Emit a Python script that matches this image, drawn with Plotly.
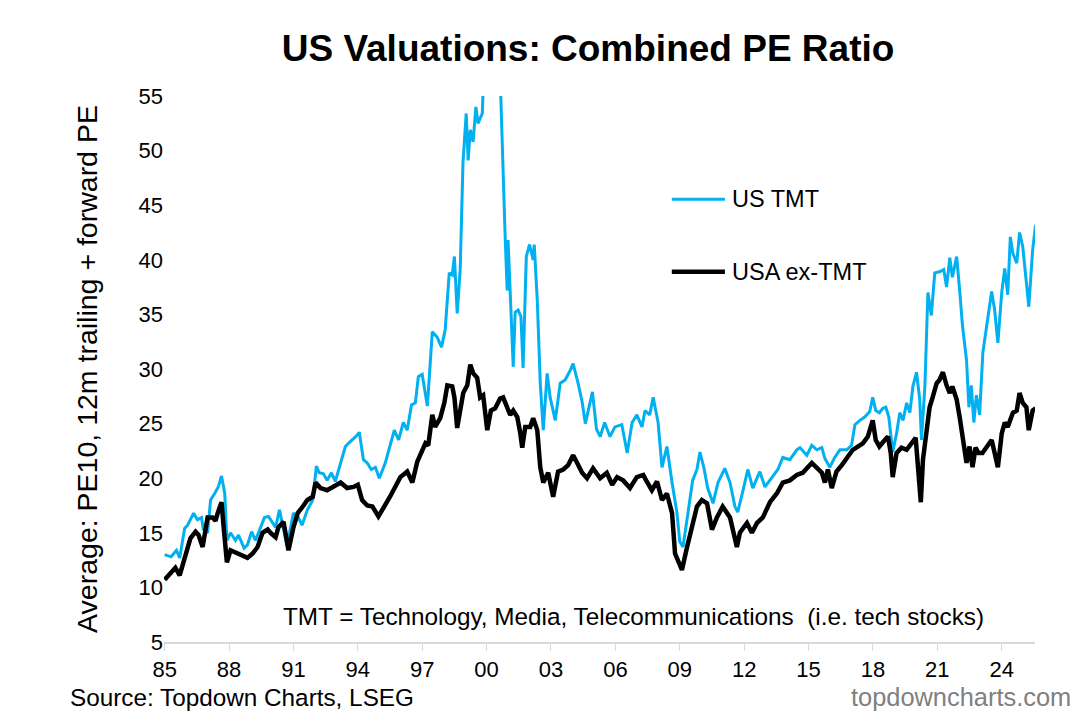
import plotly.graph_objects as go

# US TMT combined PE (decimal year, value)
tmt_dates = [
    1985.00, 1985.30, 1985.55, 1985.70, 1985.93, 1986.07, 1986.35, 1986.53, 1986.72, 1986.80,
    1987.00, 1987.14, 1987.33, 1987.50, 1987.65, 1987.80, 1987.90, 1988.07, 1988.30, 1988.44,
    1988.70, 1988.86, 1989.05, 1989.23, 1989.47, 1989.65, 1989.84, 1990.00, 1990.17, 1990.35,
    1990.54, 1990.70, 1991.00, 1991.23, 1991.40, 1991.65, 1991.90, 1992.07, 1992.20, 1992.40,
    1992.57, 1992.77, 1992.95, 1993.20, 1993.42, 1993.56, 1993.75, 1993.90, 1994.07, 1994.26,
    1994.44, 1994.63, 1994.82, 1995.00, 1995.28, 1995.37, 1995.70, 1995.90, 1996.12, 1996.30,
    1996.50, 1996.68, 1996.82, 1997.00, 1997.24, 1997.47, 1997.70, 1997.90, 1998.07, 1998.26,
    1998.40, 1998.50, 1998.63, 1998.77, 1998.90, 1999.05, 1999.14, 1999.24, 1999.37, 1999.50,
    1999.60, 1999.80, 1999.95, 2000.25, 2000.55, 2000.87, 2000.96, 2001.00, 2001.10, 2001.24,
    2001.33, 2001.47, 2001.60, 2001.70, 2001.85, 2002.00, 2002.17, 2002.22, 2002.36, 2002.50,
    2002.64, 2002.82, 2002.96, 2003.20, 2003.43, 2003.66, 2003.90, 2004.03, 2004.26, 2004.45,
    2004.60, 2004.75, 2004.93, 2005.12, 2005.29, 2005.50, 2005.75, 2005.98, 2006.30, 2006.55,
    2006.78, 2007.00, 2007.24, 2007.38, 2007.60, 2007.76, 2007.99, 2008.17, 2008.40, 2008.64,
    2008.87, 2009.00, 2009.15, 2009.38, 2009.60, 2009.80, 2009.94, 2010.13, 2010.30, 2010.55,
    2010.78, 2011.10, 2011.34, 2011.57, 2011.70, 2011.95, 2012.17, 2012.40, 2012.73, 2012.97,
    2013.30, 2013.57, 2013.80, 2014.13, 2014.45, 2014.60, 2014.92, 2015.15, 2015.39, 2015.62,
    2015.76, 2015.99, 2016.22, 2016.46, 2016.78, 2017.00, 2017.16, 2017.39, 2017.62, 2017.85,
    2017.99, 2018.13, 2018.30, 2018.46, 2018.60, 2018.74, 2018.92, 2019.10, 2019.25, 2019.40,
    2019.57, 2019.72, 2019.86, 2020.03, 2020.18, 2020.26, 2020.42, 2020.56, 2020.72, 2020.88,
    2021.10, 2021.30, 2021.43, 2021.58, 2021.70, 2021.90, 2022.04, 2022.17, 2022.36, 2022.47,
    2022.58, 2022.70, 2022.82, 2022.97, 2023.12, 2023.36, 2023.53, 2023.67, 2023.82, 2024.00,
    2024.14, 2024.28, 2024.40, 2024.52, 2024.70, 2024.83, 2024.98, 2025.15, 2025.26, 2025.44,
    2025.58,
]
tmt_values = [
    13.0, 12.8, 13.4, 12.7, 15.4, 15.7, 16.8, 16.2, 16.4, 15.3,
    15.0, 18.0, 18.6, 19.2, 20.2, 18.6, 14.3, 15.0, 14.3, 14.8,
    13.6, 13.9, 15.1, 14.3, 15.5, 16.4, 16.5, 16.0, 15.5, 17.1,
    15.3, 13.8, 16.8, 16.4, 15.7, 17.1, 18.0, 21.1, 20.5, 20.4,
    19.8, 20.5, 19.7, 21.4, 22.9, 23.2, 23.5, 23.8, 24.2, 21.7,
    21.4, 20.8, 21.0, 20.0, 21.4, 22.0, 24.4, 23.5, 25.1, 24.4,
    26.7, 26.9, 29.3, 29.5, 26.6, 33.4, 32.9, 32.0, 33.6, 38.8,
    38.6, 40.3, 35.1, 39.1, 48.9, 53.4, 49.1, 51.9, 50.8, 54.0,
    52.5, 53.4, 62.0, 68.0, 62.0, 41.8, 37.2, 41.8, 36.6, 30.2,
    35.2, 35.4, 34.8, 30.1, 40.3, 41.4, 40.0, 41.4, 36.3, 28.7,
    24.4, 29.6, 27.4, 25.3, 28.7, 29.0, 29.9, 30.5, 28.7, 27.0,
    25.0, 26.2, 27.9, 24.5, 23.8, 25.1, 23.8, 24.7, 24.9, 22.3,
    25.1, 25.8, 24.7, 26.2, 25.8, 27.4, 25.1, 21.0, 22.9, 19.6,
    16.8, 14.2, 13.7, 16.8, 19.8, 20.8, 22.4, 20.9, 19.1, 17.7,
    19.6, 20.9, 19.6, 17.4, 16.9, 18.9, 20.8, 19.1, 20.6, 19.2,
    20.1, 20.8, 21.9, 21.7, 22.6, 22.8, 22.1, 23.0, 22.6, 22.8,
    21.8, 21.0, 21.9, 22.6, 22.6, 23.0, 24.9, 25.3, 25.6, 26.1,
    27.4, 26.2, 26.0, 26.4, 26.5, 25.6, 22.4, 24.1, 26.0, 25.3,
    26.9, 26.0, 28.4, 29.7, 27.2, 23.5, 28.4, 37.0, 34.9, 38.8,
    38.9, 39.1, 37.5, 40.2, 38.4, 40.3, 37.2, 34.0, 30.8, 26.5,
    28.5, 25.1, 27.6, 25.8, 31.5, 34.8, 37.1, 35.4, 32.4, 37.0,
    39.2, 36.8, 42.1, 40.6, 39.7, 42.5, 41.2, 37.9, 35.7, 40.9,
    43.2,
]

# USA ex-TMT combined PE (decimal year, value)
ex_dates = [
    1985.00, 1985.30, 1985.50, 1985.70, 1985.98, 1986.20, 1986.44, 1986.58, 1986.77, 1987.00,
    1987.23, 1987.37, 1987.47, 1987.65, 1987.75, 1987.90, 1988.07, 1988.40, 1988.68, 1988.86,
    1989.10, 1989.33, 1989.56, 1989.80, 1989.93, 1990.17, 1990.30, 1990.54, 1990.77, 1991.00,
    1991.20, 1991.33, 1991.47, 1991.65, 1991.90, 1992.03, 1992.26, 1992.57, 1992.86, 1993.20,
    1993.50, 1993.80, 1994.00, 1994.20, 1994.44, 1994.68, 1994.96, 1995.14, 1995.37, 1995.50,
    1995.98, 1996.30, 1996.54, 1996.77, 1996.90, 1997.15, 1997.28, 1997.47, 1997.60, 1997.84,
    1998.03, 1998.17, 1998.40, 1998.50, 1998.63, 1998.77, 1998.91, 1999.10, 1999.24, 1999.38,
    1999.56, 1999.70, 1999.84, 2000.03, 2000.20, 2000.40, 2000.63, 2000.77, 2000.96, 2001.10,
    2001.24, 2001.43, 2001.57, 2001.66, 2001.80, 2002.03, 2002.17, 2002.36, 2002.50, 2002.64,
    2002.87, 2003.10, 2003.33, 2003.57, 2003.80, 2004.03, 2004.22, 2004.45, 2004.68, 2004.96,
    2005.29, 2005.60, 2005.85, 2006.08, 2006.36, 2006.68, 2007.00, 2007.30, 2007.46, 2007.70,
    2007.94, 2008.17, 2008.40, 2008.64, 2008.78, 2008.92, 2009.10, 2009.34, 2009.57, 2009.80,
    2010.03, 2010.27, 2010.50, 2010.73, 2011.00, 2011.34, 2011.66, 2011.80, 2012.13, 2012.36,
    2012.60, 2012.87, 2013.20, 2013.52, 2013.80, 2014.13, 2014.45, 2014.73, 2015.15, 2015.39,
    2015.62, 2015.76, 2015.90, 2016.08, 2016.30, 2016.55, 2016.83, 2017.06, 2017.30, 2017.53,
    2017.76, 2017.99, 2018.13, 2018.30, 2018.55, 2018.70, 2018.83, 2018.92, 2019.10, 2019.33,
    2019.57, 2019.80, 2019.99, 2020.10, 2020.23, 2020.33, 2020.50, 2020.64, 2020.78, 2020.97,
    2021.10, 2021.26, 2021.43, 2021.58, 2021.70, 2021.90, 2022.04, 2022.18, 2022.36, 2022.50,
    2022.64, 2022.78, 2022.92, 2023.10, 2023.34, 2023.53, 2023.67, 2023.82, 2024.00, 2024.14,
    2024.28, 2024.52, 2024.70, 2024.83, 2024.98, 2025.15, 2025.26, 2025.44, 2025.58,
]
ex_values = [
    10.7, 11.3, 11.8, 11.1, 13.1, 14.5, 15.1, 14.8, 13.7, 16.4,
    16.4, 16.1, 16.8, 17.8, 15.5, 12.3, 13.4, 13.1, 12.8, 12.7,
    13.1, 13.7, 15.0, 15.3, 15.0, 14.6, 15.5, 16.0, 13.4, 15.5,
    16.8, 17.1, 17.5, 18.0, 18.3, 19.6, 19.1, 18.9, 19.2, 19.6,
    19.1, 19.2, 19.4, 18.0, 17.5, 17.4, 16.5, 17.1, 17.8, 18.3,
    20.1, 20.6, 19.6, 21.5, 22.1, 23.2, 23.0, 25.8, 24.7, 25.5,
    26.9, 28.5, 28.4, 27.4, 24.6, 26.5, 27.8, 28.5, 30.4, 29.6,
    29.2, 27.4, 27.6, 24.4, 26.2, 26.4, 27.3, 27.4, 26.5, 25.8,
    26.2, 25.6, 24.1, 22.8, 24.7, 24.7, 25.5, 24.4, 21.0, 19.6,
    20.5, 18.3, 20.6, 20.8, 21.2, 22.1, 21.4, 20.5, 20.0, 20.9,
    20.0, 20.5, 19.4, 20.1, 19.8, 19.1, 20.1, 20.3, 19.7, 18.9,
    19.7, 18.0, 18.6, 16.8, 13.1, 12.5, 11.6, 13.7, 15.5, 17.4,
    18.0, 17.7, 15.3, 16.4, 17.4, 16.4, 13.7, 15.0, 15.9, 15.0,
    15.9, 16.4, 17.8, 18.6, 19.6, 19.8, 20.3, 20.5, 21.4, 21.0,
    20.5, 19.6, 20.8, 19.1, 20.6, 21.2, 21.9, 22.6, 22.9, 23.2,
    23.8, 25.3, 23.5, 22.9, 23.5, 23.8, 22.3, 20.1, 22.3, 22.8,
    22.6, 23.2, 23.7, 21.0, 17.8, 21.7, 24.7, 26.5, 27.4, 28.7,
    29.0, 29.7, 28.5, 27.8, 28.4, 27.2, 25.6, 23.8, 21.4, 22.9,
    21.0, 22.8, 22.3, 22.3, 22.9, 23.5, 22.3, 21.0, 24.1, 25.1,
    24.7, 26.0, 26.2, 27.8, 26.9, 26.5, 24.4, 26.2, 26.4,
]

tick_years = list(range(1985, 2025, 3))
tick_labels = [str(y)[2:] for y in tick_years]

FONT = "Liberation Sans, Arial, sans-serif"
BLUE = "#00B0F0"

fig = go.Figure()
fig.add_trace(go.Scatter(x=tmt_dates, y=tmt_values, mode="lines", name="US TMT",
                         line=dict(color=BLUE, width=3)))
fig.add_trace(go.Scatter(x=ex_dates, y=ex_values, mode="lines", name="USA ex-TMT",
                         line=dict(color="black", width=4.5)))

# page body has an 8px margin, so the figure is 16px smaller than the window
fig.update_layout(
    width=1069, height=708,
    margin=dict(l=156, r=42, t=88, b=74),
    paper_bgcolor="white", plot_bgcolor="white",
    font=dict(family=FONT, color="#000000", size=22),
    showlegend=False,
    title=dict(text="<b>US Valuations: Combined PE Ratio</b>", x=0.5426, xanchor="center",
               y=0.9435, yanchor="middle", font=dict(size=37, family=FONT)),
)

fig.update_xaxes(range=[1984.97, 2025.55], tickvals=tick_years, ticktext=tick_labels,
                 showgrid=False, zeroline=False, showline=True, linecolor="#d9d9d9",
                 linewidth=1.5, ticks="outside", ticklen=7, tickcolor="#d9d9d9",
                 tickfont=dict(size=22))
fig.update_yaxes(range=[5, 55], tickvals=list(range(5, 56, 5)), showgrid=False,
                 zeroline=False, showline=False, ticks="",
                 tickfont=dict(size=22),
                 title=dict(text="Average: PE10, 12m trailing + forward PE",
                            font=dict(size=28.5), standoff=32))

# legend drawn inside the plot area
legend_items = [("US TMT", BLUE, 3, 0.811), ("USA ex-TMT", "black", 4.5, 0.678)]
for label, color, width, ypos in legend_items:
    fig.add_shape(type="line", xref="paper", yref="paper", x0=0.583, x1=0.644,
                  y0=ypos, y1=ypos, line=dict(color=color, width=width))
    fig.add_annotation(text=label, xref="paper", yref="paper", x=0.650, y=ypos,
                       xanchor="left", yanchor="middle", showarrow=False,
                       font=dict(size=23.5))

fig.add_annotation(text="TMT = Technology, Media, Telecommunications  (i.e. tech stocks)",
                   xref="paper", yref="paper", x=0.539, y=0.046, xanchor="center",
                   yanchor="middle", showarrow=False, font=dict(size=24.3))
fig.add_annotation(text="Source: Topdown Charts, LSEG", xref="paper", yref="paper",
                   x=-0.110, y=-0.101, xanchor="left", yanchor="middle",
                   showarrow=False, font=dict(size=24.3))
fig.add_annotation(text="topdowncharts.com", xref="paper", yref="paper",
                   x=1.0436, y=-0.101, xanchor="right", yanchor="middle",
                   showarrow=False, font=dict(size=25.4, color="#808080"))

fig.write_html("out.html")
